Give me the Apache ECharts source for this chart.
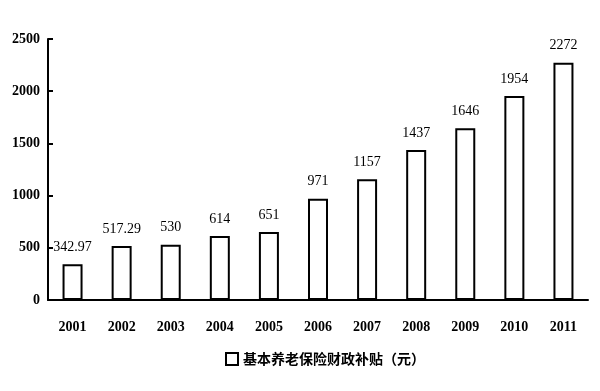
<!DOCTYPE html>
<html><head><meta charset="utf-8">
<script src="https://cdn.jsdelivr.net/npm/echarts@6/dist/echarts.min.js"></script>
<style>html,body{margin:0;padding:0;background:#fff}#c{width:600px;height:391px}</style>
</head><body><div id="c"></div>
<script>
const categories = ['2001','2002','2003','2004','2005','2006','2007','2008','2009','2010','2011'];
const values = [342.97, 517.29, 530, 614, 651, 971, 1157, 1437, 1646, 1954, 2272];
const seriesName = '基本养老保险财政补贴（元）';
const yTicks = [0, 500, 1000, 1500, 2000, 2500];

const chart = echarts.init(document.getElementById('c'));
chart.setOption({
  animation: false,
  backgroundColor: '#fff',
  grid: { left: 48, right: 12, top: 39, bottom: 91 },
  legend: {
    bottom: 20, left: 220,
    itemWidth: 12, itemHeight: 12, itemGap: 6,
    textStyle: { fontFamily: 'Noto Sans CJK SC', fontSize: 14, color: '#000', fontWeight: 'bold' },
    data: [{ name: seriesName, icon: 'rect', itemStyle: { color: '#fff', borderColor: '#000', borderWidth: 2 } }]
  },
  xAxis: {
    type: 'category', data: categories,
    axisLine: { lineStyle: { color: '#000', width: 2 } },
    axisTick: { inside: true, length: 6, lineStyle: { color: '#000', width: 2 } },
    axisLabel: { margin: 20, color: '#000', fontFamily: 'Liberation Serif', fontSize: 14, fontWeight: 'bold' }
  },
  yAxis: {
    type: 'value', min: 0, max: 2500, interval: 500,
    axisLine: { show: true, lineStyle: { color: '#000', width: 2 } },
    axisTick: { show: true, inside: true, length: 5, lineStyle: { color: '#000', width: 2 } },
    splitLine: { show: false },
    axisLabel: { margin: 8, color: '#000', fontFamily: 'Liberation Serif', fontSize: 14, fontWeight: 'bold',
      formatter: v => yTicks.includes(v) ? String(v) : '' }
  },
  series: [{
    name: seriesName, type: 'bar', data: values, barWidth: 20,
    itemStyle: { color: '#fff', borderColor: '#000', borderWidth: 2 },
    label: { show: true, position: 'top', distance: 10, color: '#000',
      fontFamily: 'Liberation Serif', fontSize: 14 }
  }]
});
</script></body></html>
